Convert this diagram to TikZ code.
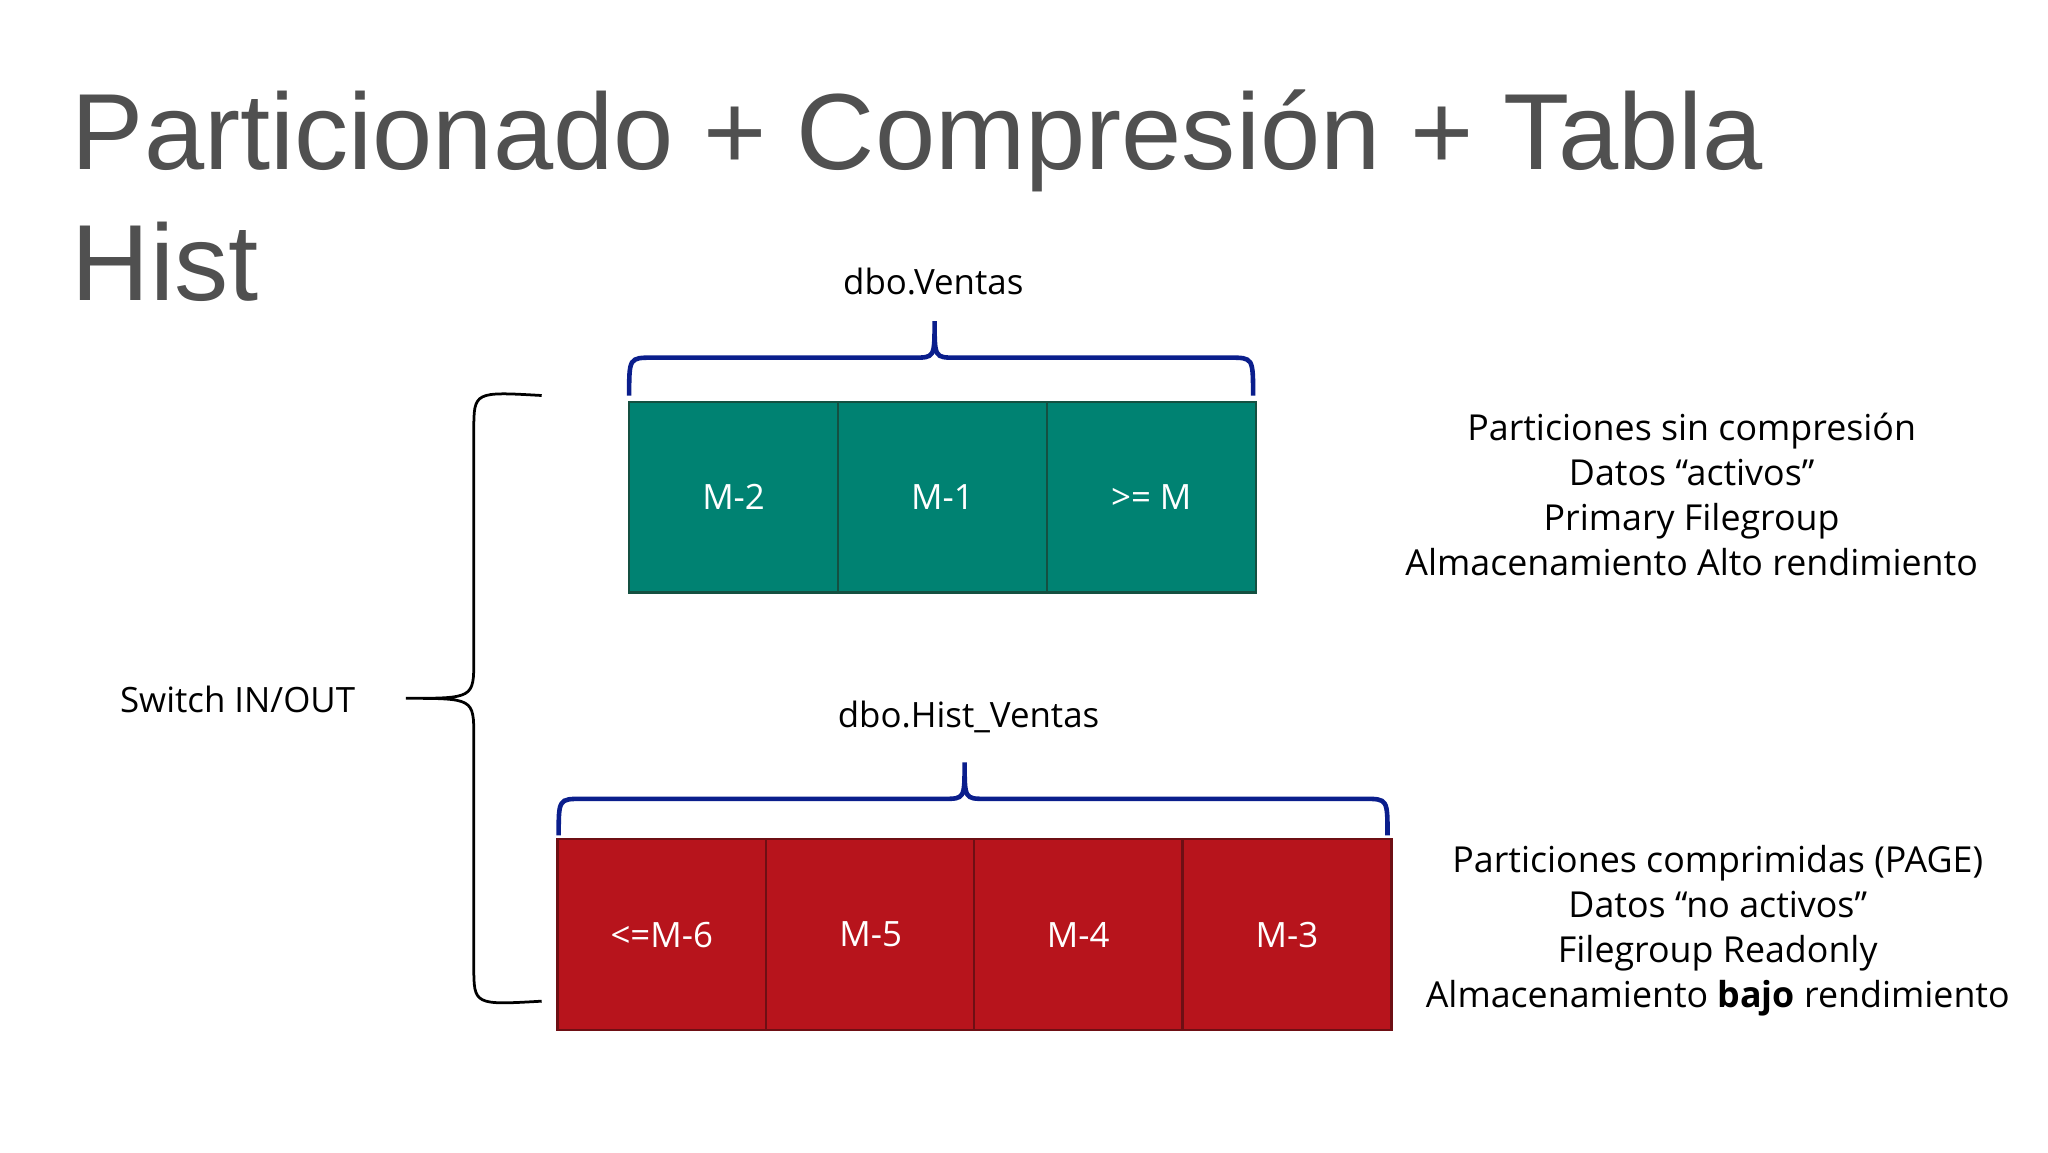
\documentclass[tikz,border=0pt]{standalone}
\usepackage{fontspec}
\setmainfont{Open Sans}
\newfontfamily\titlefont{Liberation Sans}
\definecolor{teal1}{RGB}{0,130,114}
\definecolor{teal2}{RGB}{20,80,65}
\definecolor{red1}{RGB}{183,20,28}
\definecolor{red2}{RGB}{110,15,20}
\definecolor{brace}{RGB}{10,30,140}
\definecolor{titlegray}{RGB}{80,80,80}
\begin{document}
\begin{tikzpicture}[x=0.05cm,y=-0.05cm,
  cellg/.style={draw=teal2,line width=2.5pt,fill=teal1,minimum width=160*0.05cm,minimum height=146*0.05cm,inner sep=0pt,text=white,font=\fontsize{38}{44}\selectfont},
  cellr/.style={draw=red2,line width=2.5pt,fill=red1,minimum width=160*0.05cm,minimum height=146*0.05cm,inner sep=0pt,text=white,font=\fontsize{38}{44}\selectfont},
  lbl/.style={font=\fontsize{38}{44}\selectfont,inner sep=0pt},
  info/.style={font=\fontsize{39}{49}\selectfont,align=center,inner sep=0pt},
  bluebrace/.style={draw=brace,line width=5pt}]
\useasboundingbox[fill=white] (0,0) rectangle (1569,882.6);
\node[anchor=base west,text=titlegray,font=\titlefont\fontsize{118}{140}\selectfont,inner sep=0pt] (t1) at (55,130) {Particionado + Compresión + Tabla};
\node[anchor=base west,text=titlegray,font=\titlefont\fontsize{118}{140}\selectfont,inner sep=0pt] (t2) at (55,230) {Hist};
% top
\node[lbl] (v) at (715,216) {dbo.Ventas};
\draw[bluebrace] (482,303) .. controls (482,274) .. (500,274) -- (700,274) .. controls (716,274) .. (716,246) .. controls (716,274) .. (732,274) -- (942,274) .. controls (960,274) .. (960,303);
\node[cellg] (g1) at (562,381) {M-2};
\node[cellg] (g2) at (722,381) {M-1};
\node[cellg] (g3) at (882,381) {>= M};
% bottom
\node[lbl] (h) at (742,549) {dbo.Hist\_Ventas};
\draw[bluebrace] (428,640) .. controls (428,612) .. (446,612) -- (723,612) .. controls (739,612) .. (739,584) .. controls (739,612) .. (755,612) -- (1045,612) .. controls (1063,612) .. (1063,640);
\node[cellr] (r1) at (507,716) {<=M-6};
\node[cellr] (r2) at (667,716) {M-5};
\node[cellr] (r3) at (826,716) {M-4};
\node[cellr] (r4) at (986,716) {M-3};
% left brace
\node[lbl] (sw) at (182,536) {Switch IN/OUT};
\draw[line width=3pt] (415,303) .. controls (363,300) .. (363,330) -- (363,505) .. controls (363,535) .. (311,535) .. controls (363,535) .. (363,565) -- (363,740) .. controls (363,770) .. (415,767);
% info
\node[info] (i1) at (1296,379) {Particiones sin compresión\\Datos “activos”\\Primary Filegroup\\Almacenamiento Alto rendimiento};
\node[info] (i2) at (1316,713) {Particiones comprimidas (PAGE)\\Datos “no activos”\\Filegroup Readonly\\Almacenamiento \textbf{bajo} rendimiento};
\end{tikzpicture}
\end{document}
